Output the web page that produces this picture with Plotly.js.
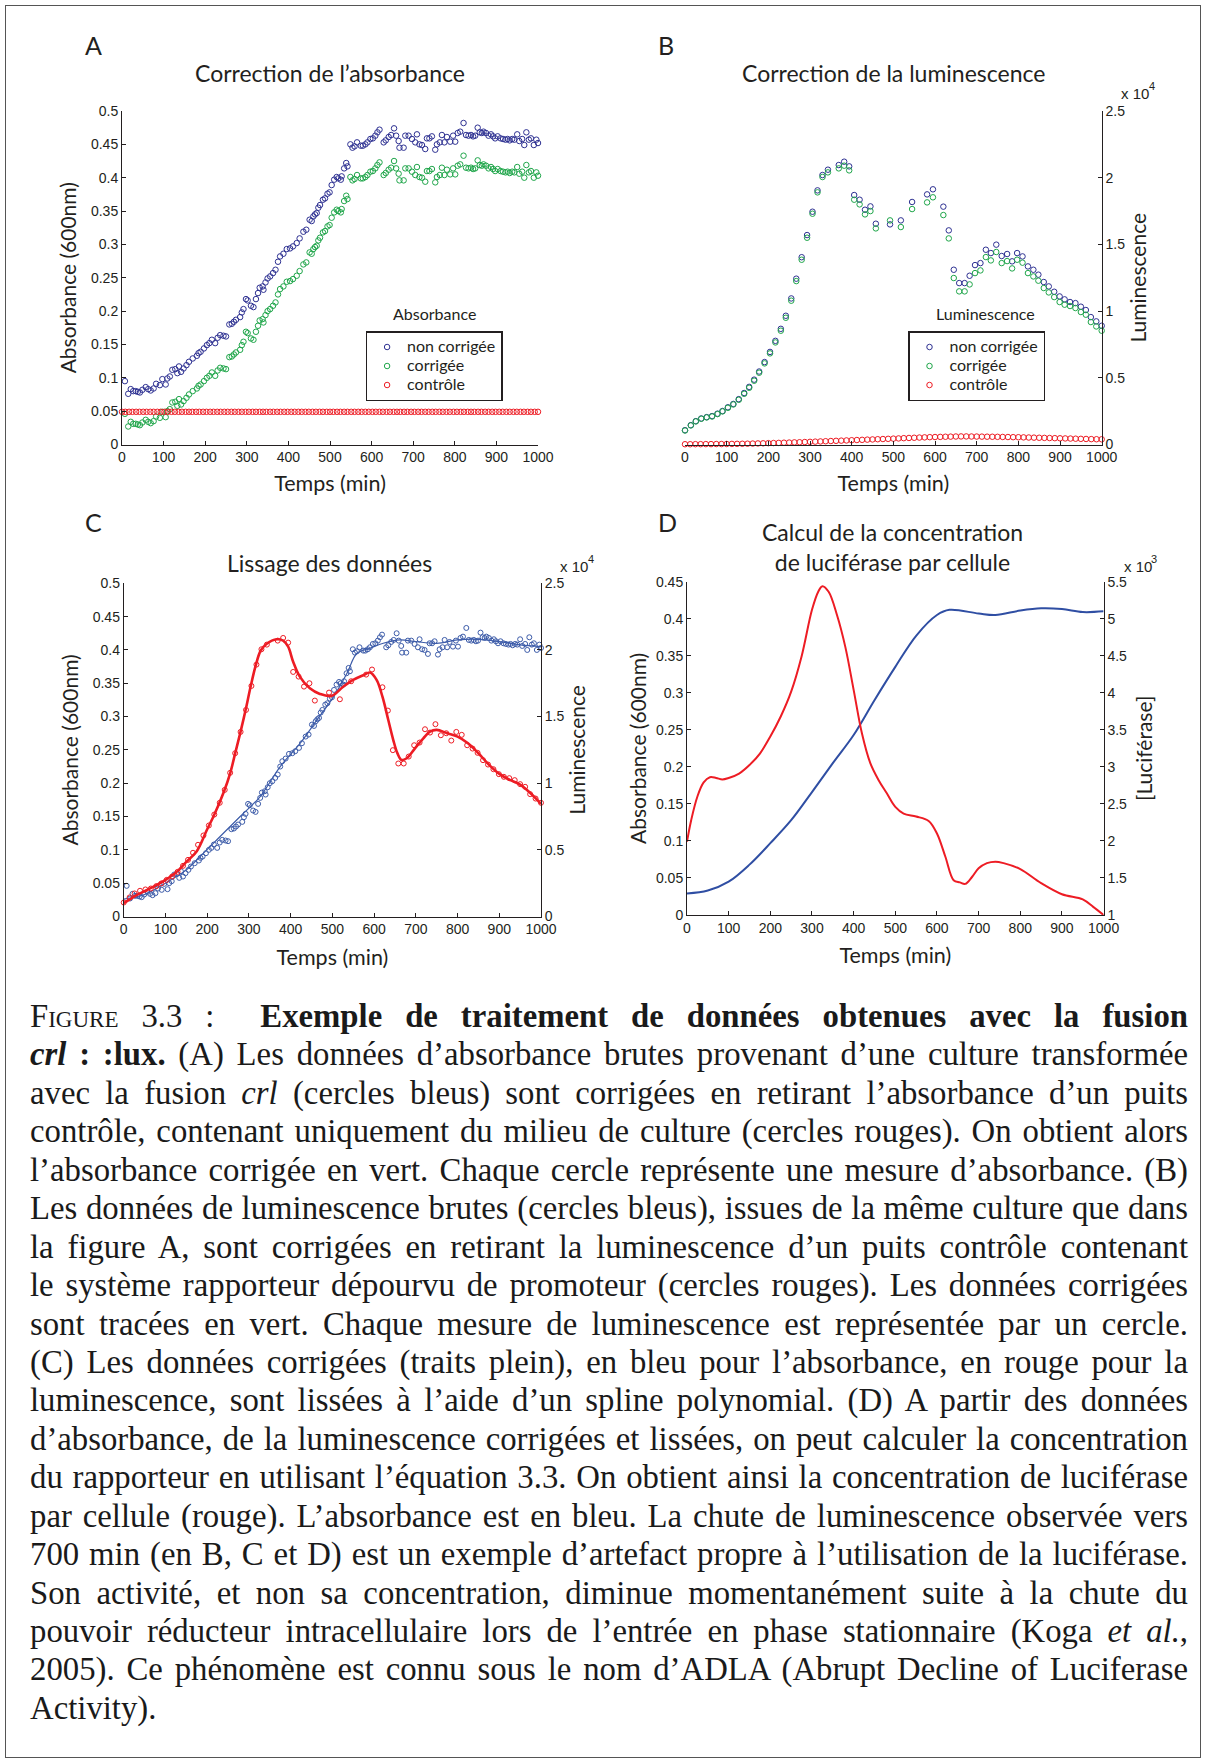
<!DOCTYPE html>
<html>
<head>
<meta charset="utf-8">
<script src="https://cdn.plot.ly/plotly-3.0.1.min.js"></script>
<style>
  html, body { margin:0; padding:0; background:#fff; }
  #wrap { position:relative; width:1205px; height:1764px; overflow:hidden; }
  #chart { position:absolute; left:0; top:0; width:1205px; height:1764px; }
  #frame { position:absolute; left:5px; top:5px; width:1196px; height:1753px; border:1px solid #555; box-sizing:border-box; pointer-events:none; }
  #cap { position:absolute; left:30px; top:997px; width:1158px; font-family:"Liberation Serif","DejaVu Serif",serif; font-size:33px; line-height:38.44px; color:#1a1a1a; }
  #cap .l { text-align:justify; text-align-last:justify; }
  #cap .last { text-align:left; text-align-last:left; }
  #cap .sc { font-variant:small-caps; }
</style>
</head>
<body>
<div id="wrap">
  <div id="chart"></div>
  <div id="frame"></div>
  <div id="cap">
    <div class="l"><span class="sc">Figure</span> 3.3 :&nbsp; <b>Exemple de traitement de données obtenues avec la fusion</b></div>
    <div class="l"><b><i>crl</i> : :lux.</b> (A) Les données d’absorbance brutes provenant d’une culture transformée</div>
    <div class="l">avec la fusion <i>crl</i> (cercles bleus) sont corrigées en retirant l’absorbance d’un puits</div>
    <div class="l">contrôle, contenant uniquement du milieu de culture (cercles rouges). On obtient alors</div>
    <div class="l">l’absorbance corrigée en vert. Chaque cercle représente une mesure d’absorbance. (B)</div>
    <div class="l">Les données de luminescence brutes (cercles bleus), issues de la même culture que dans</div>
    <div class="l">la figure A, sont corrigées en retirant la luminescence d’un puits contrôle contenant</div>
    <div class="l">le système rapporteur dépourvu de promoteur (cercles rouges). Les données corrigées</div>
    <div class="l">sont tracées en vert. Chaque mesure de luminescence est représentée par un cercle.</div>
    <div class="l">(C) Les données corrigées (traits plein), en bleu pour l’absorbance, en rouge pour la</div>
    <div class="l">luminescence, sont lissées à l’aide d’un spline polynomial. (D) A partir des données</div>
    <div class="l">d’absorbance, de la luminescence corrigées et lissées, on peut calculer la concentration</div>
    <div class="l">du rapporteur en utilisant l’équation 3.3. On obtient ainsi la concentration de luciférase</div>
    <div class="l">par cellule (rouge). L’absorbance est en bleu. La chute de luminescence observée vers</div>
    <div class="l">700 min (en B, C et D) est un exemple d’artefact propre à l’utilisation de la luciférase.</div>
    <div class="l">Son activité, et non sa concentration, diminue momentanément suite à la chute du</div>
    <div class="l">pouvoir réducteur intracellulaire lors de l’entrée en phase stationnaire (Koga <i>et al.</i>,</div>
    <div class="l">2005). Ce phénomène est connu sous le nom d’ADLA (Abrupt Decline of Luciferase</div>
    <div class="l last">Activity).</div>
  </div>
</div>
<script>
// ---------------- DATA ----------------
// Panel A : absorbance (600 nm)
const absT = [7,15,21,27,33,38,43,49,57,63,
  69,76,82,91,97,105,109,115,121,128,
  133,137,142,148,155,161,170,180,184,189,
  197,204,210,216,224,230,236,244,250,258,
  264,269,274,284,288,292,298,302,310,316,
  322,327,331,338,340,345,350,356,363,369,
  375,380,388,396,404,411,420,427,436,443,
  451,456,460,464,468,472,476,483,488,494,
  499,504,510,516,520,526,528,534,539,542,
  549,554,559,565,574,579,585,590,597,603,
  609,614,619,629,634,641,647,654,659,665,
  667,677,681,689,697,705,709,715,721,729,
  733,739,745,753,757,764,769,775,781,789,
  796,801,807,813,821,827,833,839,844,849,
  855,860,865,869,875,881,887,892,897,903,
  910,916,922,927,932,938,943,950,955,962,
  967,972,978,983,990,996,1000];
const absRaw = [.095,.076,.083,.080,.080,.079,.078,.082,.086,.083,
  .081,.084,.091,.089,.098,.090,.099,.102,.112,.113,
  .107,.117,.109,.114,.119,.124,.129,.133,.137,.139,
  .144,.149,.152,.157,.152,.160,.164,.163,.162,.180,
  .181,.184,.187,.191,.198,.203,.218,.216,.208,.206,
  .218,.227,.235,.237,.232,.243,.249,.252,.257,.262,
  .274,.282,.286,.293,.294,.297,.302,.309,.319,.322,
  .337,.335,.342,.345,.347,.355,.359,.367,.369,.376,
  .378,.389,.397,.401,.399,.397,.402,.414,.422,.417,
  .450,.445,.447,.453,.448,.448,.450,.453,.458,.459,
  .463,.468,.472,.453,.456,.461,.464,.474,.463,.455,
  .445,.445,.463,.463,.458,.453,.465,.450,.449,.443,
  .459,.459,.462,.442,.450,.453,.464,.453,.461,.454,
  .463,.454,.467,.469,.482,.464,.463,.464,.462,.463,
  .475,.468,.467,.469,.467,.463,.465,.462,.459,.462,
  .459,.458,.457,.458,.456,.458,.457,.465,.455,.458,
  .449,.468,.457,.459,.449,.457,.452];
const absCorr = [.046,.027,.034,.031,.031,.030,.029,.033,.037,.034,
  .032,.035,.042,.040,.049,.041,.050,.053,.063,.064,
  .058,.068,.060,.065,.070,.075,.080,.084,.088,.090,
  .095,.100,.103,.108,.103,.111,.115,.114,.113,.131,
  .132,.135,.138,.142,.149,.154,.169,.167,.159,.157,
  .169,.178,.186,.188,.183,.194,.200,.203,.208,.213,
  .225,.233,.237,.244,.245,.248,.253,.260,.270,.273,
  .288,.286,.293,.296,.298,.306,.310,.318,.320,.327,
  .329,.340,.348,.352,.350,.348,.353,.365,.373,.368,
  .401,.396,.398,.404,.399,.399,.401,.404,.409,.410,
  .414,.419,.423,.404,.407,.412,.415,.425,.414,.406,
  .396,.396,.414,.414,.409,.404,.416,.401,.400,.394,
  .410,.410,.413,.393,.401,.404,.415,.404,.412,.405,
  .414,.405,.418,.420,.433,.415,.414,.415,.413,.414,
  .426,.419,.418,.420,.418,.414,.416,.413,.410,.413,
  .410,.409,.408,.409,.407,.409,.408,.416,.406,.409,
  .400,.419,.408,.410,.400,.408,.403];
const ctlAbsT = [0,8,17,25,34,42,51,59,68,76,
  85,93,102,110,119,127,136,144,153,161,
  169,178,186,195,203,212,220,229,237,246,
  254,263,271,280,288,297,305,314,322,331,
  339,347,356,364,373,381,390,398,407,415,
  424,432,441,449,458,466,475,483,492,500,
  508,517,525,534,542,551,559,568,576,585,
  593,602,610,619,627,636,644,653,661,669,
  678,686,695,703,712,720,729,737,746,754,
  763,771,780,788,797,805,814,822,831,839,
  847,856,864,873,881,890,898,907,915,924,
  932,941,949,958,966,975,983,992,1000];
const ctlAbs = [.049,.049,.049,.049,.049,.049,.049,.049,.049,.049,
  .049,.049,.049,.049,.049,.049,.049,.049,.049,.049,
  .049,.049,.049,.049,.049,.049,.049,.049,.049,.049,
  .049,.049,.049,.049,.049,.049,.049,.049,.049,.049,
  .049,.049,.049,.049,.049,.049,.049,.049,.049,.049,
  .049,.049,.049,.049,.049,.049,.049,.049,.049,.049,
  .049,.049,.049,.049,.049,.049,.049,.049,.049,.049,
  .049,.049,.049,.049,.049,.049,.049,.049,.049,.049,
  .049,.049,.049,.049,.049,.049,.049,.049,.049,.049,
  .049,.049,.049,.049,.049,.049,.049,.049,.049,.049,
  .049,.049,.049,.049,.049,.049,.049,.049,.049,.049,
  .049,.049,.049,.049,.049,.049,.049,.049,.049];

// Panel B : luminescence
const lumT = [0,14,26,39,52,65,78,90,103,116,
  129,142,154,166,178,191,204,217,230,242,
  255,267,280,293,306,318,330,343,369,382,
  394,406,419,432,445,458,492,518,545,581,
  595,620,633,645,658,671,683,696,709,722,
  734,747,760,773,785,797,810,823,836,848,
  861,873,886,899,911,924,937,950,962,974,
  987,1000];
const lumRaw = [1070,1450,1750,1950,2050,2130,2310,2510,2790,3040,
  3400,3860,4320,4860,5470,6180,6940,7770,8670,9650,
  10950,12430,14040,15700,17450,19050,20200,20600,20950,21200,
  20850,18700,18350,17600,17850,16550,16500,16800,18180,18750,
  19130,17830,16050,13100,12100,12100,12650,13450,13600,14600,
  14350,14980,14130,14280,13730,14350,14100,13350,13100,12730,
  12180,11850,11450,11100,10880,10680,10600,10330,10080,9550,
  9230,8900];
const lumCorr = [1050,1430,1730,1930,2030,2100,2280,2480,2750,3000,
  3350,3800,4250,4780,5380,6080,6830,7650,8530,9500,
  10780,12250,13850,15500,17300,18900,20050,20400,20700,20900,
  20550,18350,18000,17250,17500,16200,16800,16300,17650,18150,
  18530,17200,15450,12480,11480,11480,12000,12850,13050,14050,
  13800,14430,13600,13750,13200,13850,13630,12850,12600,12280,
  11730,11400,11050,10680,10480,10380,10230,9930,9730,9180,
  8850,8530];
const ctlLumT = [0,12.5,25,37.5,50,62.5,75,87.5,100,112.5,
  125,137.5,150,162.5,175,187.5,200,212.5,225,237.5,
  250,262.5,275,287.5,300,312.5,325,337.5,350,362.5,
  375,387.5,400,412.5,425,437.5,450,462.5,475,487.5,
  500,512.5,525,537.5,550,562.5,575,587.5,600,612.5,
  625,637.5,650,662.5,675,687.5,700,712.5,725,737.5,
  750,762.5,775,787.5,800,812.5,825,837.5,850,862.5,
  875,887.5,900,912.5,925,937.5,950,962.5,975,987.5,
  1000];
const ctlLum = [20,20,25,25,30,30,35,35,40,45,
  50,55,60,70,80,90,100,110,120,135,
  145,160,170,185,200,215,230,245,260,275,
  290,305,320,335,350,365,380,395,410,425,
  440,455,475,490,505,520,535,550,560,570,
  580,590,600,605,605,600,595,590,585,580,
  575,565,560,550,545,535,525,515,505,495,
  485,475,465,455,445,435,425,415,405,395,
  390];

// Panel C : smoothing splines
const absSmT = [0,50,100,150,183,231,279,327,375,423,463,503,535,559,590,622,662,700,750,800,850,900,950,1000];
const absSm = [0.026,0.033,0.05,0.07,0.09,0.12,0.15,0.18,0.225,0.26,0.295,0.33,0.365,0.395,0.4025,0.41,0.415,0.4125,0.41,0.415,0.416,0.4125,0.4075,0.405];
const lumSmT = [0,25,50,75,100,125,150,175,200,215,
  240,255,267,279,292,304,316,328,342,367,
  382,394,406,422,446,470,498,526,550,574,
  590,606,620,634,646,656,666,678,698,718,
  734,750,775,800,825,850,875,900,925,950,
  975,1000];
const lumSm = [1000,1500,1900,2300,2750,3300,4100,4900,6550,7500,
  9360,10740,12240,13740,15490,17240,18800,19940,20450,20800,
  20700,20240,19120,18000,17120,16700,16550,17240,17750,18100,
  18300,17750,16490,14740,13240,12240,11740,11870,12620,13370,
  13870,14000,13750,13500,13000,12250,11400,10700,10250,9900,
  9250,8450];

// Panel D : absorbance and luciferase per cell
const absDT = [0,50,100,150,200,250,300,350,400,450,500,550,600,630,700,740,800,850,900,950,1000];
const absD = [0.029,0.033,0.045,0.068,0.097,0.128,0.166,0.205,0.243,0.29,0.335,0.377,0.405,0.412,0.407,0.405,0.411,0.414,0.413,0.409,0.41];
const lucT = [0,10,25,40,55,70,85,100,125,150,
  175,200,225,250,275,300,315,325,340,360,
  380,400,420,440,460,480,500,520,550,580,
  600,620,640,655,668,685,700,720,740,760,
  800,850,900,950,975,1000];
const luc = [1990,2280,2600,2790,2860,2850,2830,2850,2910,3025,
  3180,3410,3680,4015,4490,5120,5365,5440,5365,5050,
  4620,4040,3450,3050,2820,2640,2460,2370,2330,2270,
  2100,1790,1470,1440,1420,1520,1630,1700,1720,1700,
  1620,1430,1280,1210,1110,1000];

// Tick labels
const timeTicks = [0,100,200,300,400,500,600,700,800,900,1000];
const timeTickText = ['0','100','200','300','400','500','600','700','800','900','1000'];
const absTicks = [0,0.05,0.1,0.15,0.2,0.25,0.3,0.35,0.4,0.45,0.5];
const absTickText = ['0','0.05','0.1','0.15','0.2','0.25','0.3','0.35','0.4','0.45','0.5'];
const absTicksD = [0,0.05,0.1,0.15,0.2,0.25,0.3,0.35,0.4,0.45];
const absTickTextD = ['0','0.05','0.1','0.15','0.2','0.25','0.3','0.35','0.4','0.45'];
const lumTicks = [0,5000,10000,15000,20000,25000];
const lumTickText = ['0','0.5','1','1.5','2','2.5'];
const lucTicks = [1000,1500,2000,2500,3000,3500,4000,4500,5000,5500];
const lucTickText = ['1','1.5','2','2.5','3','3.5','4','4.5','5','5.5'];
const scaleBase = 'x 10', exp4 = '4', exp3 = '3';

const seriesNames = ['non corrigée','corrigée','contrôle'];

// ---------------- STYLE ----------------
const SANS = 'Lato, "Open Sans", sans-serif';
const TICKF = '"Liberation Sans", "DejaVu Sans", Arial, sans-serif';
const INK = '#231f20';
const NAVY = '#2e3192', GREEN = '#1fa64a', RED = '#ed1c24', CBLUE = '#3d5ca9', DBLUE = '#2f4ea3';

function mk(color, size) { return {symbol:'circle-open', size:size, color:color, line:{width:1, color:color}}; }
const lname = s => '<span style="font-size:16px">' + s + '</span>';

const traces = [
  {x:absT, y:absRaw, type:'scatter', mode:'markers', name:lname(seriesNames[0]), marker:mk(NAVY,5.5), xaxis:'x', yaxis:'y', cliponaxis:false, legend:'legend'},
  {x:absT, y:absCorr, type:'scatter', mode:'markers', name:lname(seriesNames[1]), marker:mk(GREEN,5.5), xaxis:'x', yaxis:'y', cliponaxis:false, legend:'legend'},
  {x:ctlAbsT, y:ctlAbs, type:'scatter', mode:'markers', name:lname(seriesNames[2]), marker:mk(RED,5.5), xaxis:'x', yaxis:'y', cliponaxis:false, legend:'legend'},

  {x:lumT, y:lumRaw, type:'scatter', mode:'markers', name:lname(seriesNames[0]), marker:mk(NAVY,5.5), xaxis:'x2', yaxis:'y2', cliponaxis:false, legend:'legend2'},
  {x:lumT, y:lumCorr, type:'scatter', mode:'markers', name:lname(seriesNames[1]), marker:mk(GREEN,5.5), xaxis:'x2', yaxis:'y2', cliponaxis:false, legend:'legend2'},
  {x:ctlLumT, y:ctlLum, type:'scatter', mode:'markers', name:lname(seriesNames[2]), marker:mk(RED,5.5), xaxis:'x2', yaxis:'y2', cliponaxis:false, legend:'legend2'},

  {x:absT, y:absCorr, type:'scatter', mode:'markers', marker:mk(CBLUE,5), xaxis:'x3', yaxis:'y3', cliponaxis:false, showlegend:false},
  {x:absSmT, y:absSm, type:'scatter', mode:'lines', line:{color:CBLUE, width:1.2, shape:'spline'}, xaxis:'x3', yaxis:'y3', cliponaxis:false, showlegend:false},
  {x:lumT, y:lumCorr, type:'scatter', mode:'markers', marker:mk(RED,5), xaxis:'x3', yaxis:'y4', cliponaxis:false, showlegend:false},
  {x:lumSmT, y:lumSm, type:'scatter', mode:'lines', line:{color:RED, width:2.6, shape:'spline'}, xaxis:'x3', yaxis:'y4', cliponaxis:false, showlegend:false},

  {x:lucT, y:luc, type:'scatter', mode:'lines', line:{color:RED, width:2, shape:'spline'}, xaxis:'x4', yaxis:'y6', cliponaxis:false, showlegend:false},
  {x:absDT, y:absD, type:'scatter', mode:'lines', line:{color:DBLUE, width:2, shape:'spline'}, xaxis:'x4', yaxis:'y5', cliponaxis:false, showlegend:false}
];

const ax = {showline:true, linecolor:INK, linewidth:1, ticks:'inside', ticklen:4, tickwidth:1, tickcolor:INK,
  showgrid:false, zeroline:false, fixedrange:true, automargin:false, tickfont:{family:TICKF, size:14, color:INK}};
const px = v => v/1205, py = v => 1 - v/1764;
const ttl = (text, size, standoff) => ({text:text, standoff:standoff, font:{family:SANS, size:size, color:INK}});

const dA = [px(122), px(538)], dB = [px(685), px(1101.7)], dC = [px(123.75), px(541)], dD = [px(687), px(1103.6)];
const vAB = [py(444.5), py(111)], vC = [py(916.5), py(583.3)], vD = [py(915), py(581.7)];

function ann(text, x, y, size, extra) {
  return Object.assign({text:text, x:px(x), y:py(y), xref:'paper', yref:'paper', showarrow:false,
    xanchor:'center', yanchor:'middle', font:{family:SANS, size:size, color:INK}}, extra || {});
}
const TF = {family:TICKF, size:15, color:INK};
const EF = {family:TICKF, size:11, color:INK};

const annotations = [
  ann('A', 93.4, 45, 25), ann('B', 666, 45, 25), ann('C', 93.4, 522, 25), ann('D', 667, 522, 25),
  ann('Correction de l’absorbance', 329.6, 73, 23),
  ann('Correction de la luminescence', 893, 73, 23),
  ann('Lissage des données', 329.6, 562.5, 23),
  ann('Calcul de la concentration<br>de luciférase par cellule', 892, 547, 23),
  ann(scaleBase, 1119, 93, 15, {font:TF, xanchor:'left'}),
  ann(exp4, 1146.5, 86, 11, {font:EF, xanchor:'left'}),
  ann(scaleBase, 558, 566, 15, {font:TF, xanchor:'left'}),
  ann(exp4, 585.5, 559, 11, {font:EF, xanchor:'left'}),
  ann(scaleBase, 1121.5, 566, 15, {font:TF, xanchor:'left'}),
  ann(exp3, 1149, 559, 11, {font:EF, xanchor:'left'}),
  ann('Absorbance', 434, 314, 16),
  ann('Luminescence', 985.5, 314, 16)
];

const legBase = {xanchor:'left', yanchor:'top', bgcolor:'rgba(255,255,255,1)', bordercolor:INK, borderwidth:1.5,
  font:{family:SANS, size:12, color:INK}, tracegroupgap:0, itemwidth:30};

const XT = 'Temps (min)', YA = 'Absorbance (600nm)', YL = 'Luminescence', YC = '[Luciférase]';

const layout = {
  width:1205, height:1764, margin:{l:0, r:0, t:0, b:0}, paper_bgcolor:'#fff', plot_bgcolor:'#fff',
  showlegend:true,
  legend: Object.assign({x:px(365.6), y:py(331)}, legBase),
  legend2: Object.assign({x:px(908), y:py(331)}, legBase),
  xaxis: Object.assign({}, ax, {domain:dA, range:[0,1000], tickvals:timeTicks, ticktext:timeTickText, anchor:'y', title:ttl(XT, 21.5, 11)}),
  yaxis: Object.assign({}, ax, {domain:vAB, range:[0,0.5], tickvals:absTicks, ticktext:absTickText, anchor:'x', title:ttl(YA, 21, 8)}),
  xaxis2: Object.assign({}, ax, {domain:dB, range:[0,1000], tickvals:timeTicks, ticktext:timeTickText, anchor:'y2', title:ttl(XT, 21.5, 11)}),
  yaxis2: Object.assign({}, ax, {domain:vAB, range:[0,25000], tickvals:lumTicks, ticktext:lumTickText, anchor:'x2', side:'right', title:ttl(YL, 21, 0)}),
  xaxis3: Object.assign({}, ax, {domain:dC, range:[0,1000], tickvals:timeTicks, ticktext:timeTickText, anchor:'y3', title:ttl(XT, 21.5, 13.5)}),
  yaxis3: Object.assign({}, ax, {domain:vC, range:[0,0.5], tickvals:absTicks, ticktext:absTickText, anchor:'x3', title:ttl(YA, 21, 8)}),
  yaxis4: Object.assign({}, ax, {range:[0,25000], tickvals:lumTicks, ticktext:lumTickText, anchor:'x3', overlaying:'y3', side:'right', title:ttl(YL, 21, 0)}),
  xaxis4: Object.assign({}, ax, {domain:dD, range:[0,1000], tickvals:timeTicks, ticktext:timeTickText, anchor:'y5', title:ttl(XT, 21.5, 12.5)}),
  yaxis5: Object.assign({}, ax, {domain:vD, range:[0,0.45], tickvals:absTicksD, ticktext:absTickTextD, anchor:'x4', title:ttl(YA, 21, 3.5)}),
  yaxis6: Object.assign({}, ax, {range:[1000,5500], tickvals:lucTicks, ticktext:lucTickText, anchor:'x4', overlaying:'y5', side:'right', title:ttl(YC, 21, 11)}),
  annotations: annotations
};

Plotly.newPlot('chart', traces, layout, {staticPlot:true, displayModeBar:false});

// caption: largest font size at which every line stays on one line
(function fitCaption() {
  const cap = document.getElementById('cap');
  const lines = Array.from(cap.querySelectorAll('.l'));
  let fs = 34;
  while (fs > 26) {
    cap.style.fontSize = fs + 'px';
    if (lines.every(d => d.getBoundingClientRect().height < 38.44 * 1.5)) break;
    fs -= 0.25;
  }
})();
</script>
</body>
</html>
